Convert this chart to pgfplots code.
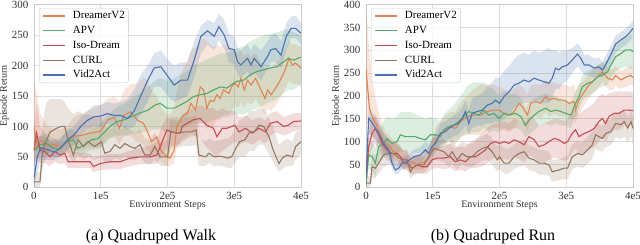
\documentclass[border=0pt]{standalone}
\usepackage{fontspec}
\setmainfont{Liberation Serif}
\usepackage{pgfplots}
\usepackage{pgfplotstable}
\pgfplotsset{compat=1.18}
\usepgfplotslibrary{fillbetween}
\definecolor{cB}{HTML}{4C72B0}
\definecolor{cO}{HTML}{DD8452}
\definecolor{cG}{HTML}{55A868}
\definecolor{cR}{HTML}{C44E52}
\definecolor{cC}{HTML}{937860}
\definecolor{gridc}{HTML}{DDDDDD}
\definecolor{framec}{HTML}{CCCCCC}
\definecolor{txt}{HTML}{333333}

% ---------------- Quadruped Walk ----------------
\pgfplotstableread{
x y l h
0 15 0 40
0.5 50 25 80
1 65 45 85
2 62 45 80
3 58 45 72
4 64 50 80
5 78 62 95
6 86 70 100
7 100 85 115
8 110 95 125
9 116 100 135
10 117 100 135
11 121 105 140
12 118 100 138
13 118 100 140
14 113 95 145
15 125 100 160
16 150 120 185
17 175 140 200
18 196 165 220
19 198 165 225
20 183 150 210
21 168 140 200
22 176 145 205
23 176 150 205
24 209 180 240
25 248 220 265
26 257 235 275
27 248 225 270
27.7 264 242 285
28.5 250 228 275
29.2 228 205 252
30 226 202 248
30.5 206 185 230
31 201 180 225
32 212 190 235
32.5 201 180 225
33 212 190 235
34 198 175 225
35 215 195 240
35.5 226 205 250
36.2 228 207 252
37 217 195 240
37.8 248 225 270
38.5 261 245 280
39.2 261 245 282
40 253 235 270
}\WB
\pgfplotstableread{
x y l h
0 100 50 175
0.5 65 40 150
1 78 50 120
2 68 50 100
3 70 50 95
4 67 50 95
5 74 55 100
6 84 60 115
7 85 60 120
8 88 65 125
9 90 65 130
10 92 65 135
11 110 80 145
12 115 85 150
12.8 97 70 140
13.5 119 85 160
14.5 124 85 170
15.4 111 75 170
16.4 105 70 180
17.1 89 60 175
17.6 75 50 160
18.4 83 55 150
19.1 59 40 130
19.9 50 35 120
20.4 48 35 120
21 61 40 130
21.4 100 65 160
22.2 116 80 190
23 122 85 210
23.5 138 90 225
24.2 127 85 230
24.9 165 110 240
25.4 160 110 245
25.9 130 95 240
26.4 143 100 235
26.9 141 100 230
27.4 152 110 235
27.9 146 110 230
28.4 160 120 235
29.2 154 120 230
29.6 165 125 230
30.1 171 135 225
30.6 165 130 220
31 179 140 225
31.5 160 130 215
32 176 140 220
32.5 168 135 215
33.2 179 145 220
34 160 130 205
34.6 146 120 195
35 160 130 200
35.5 152 125 195
36.2 163 135 205
36.8 174 145 210
37.3 185 155 220
37.8 198 165 230
38.2 212 175 240
38.7 201 170 235
39.2 204 170 235
40 196 165 230
}\WO
\pgfplotstableread{
x y l h
0 60 40 80
0.9 70 55 85
1.9 72 58 88
2.9 64 50 80
3.9 64 50 80
4.9 75 60 92
5.9 78 62 95
6.6 64 50 82
7.6 70 55 88
8.6 78 62 96
9.6 80 62 100
10.4 89 70 110
11.4 100 80 122
12.4 108 85 132
13.6 111 85 138
14.6 116 88 145
15.9 122 90 155
17.1 127 92 165
18.1 135 95 175
18.9 138 95 180
19.9 130 90 175
21 130 90 178
21.9 135 95 185
22.9 141 100 190
23.9 149 105 200
24.9 152 105 205
25.9 154 105 210
26.9 160 110 215
27.9 165 115 220
28.9 163 115 220
29.9 171 120 225
30.4 174 120 228
31.4 176 120 232
32.4 185 125 240
33.4 190 130 245
34.4 193 135 250
35.4 196 140 252
36.4 198 145 255
37.4 206 155 258
38.1 212 160 260
38.9 209 160 255
40 214 170 250
}\WG
\pgfplotstableread{
x y l h
0 60 35 90
0.4 89 50 140
0.9 61 40 100
1.6 59 40 90
2.4 50 35 75
3.1 59 42 80
3.9 53 38 75
4.6 56 40 75
5.1 42 32 60
6.1 42 32 58
7.4 42 32 56
8.4 42 32 55
8.9 34 25 48
9.9 39 28 52
11.4 42 30 55
12.9 42 30 55
14.4 48 35 60
15.9 50 38 65
17.4 50 38 68
18.4 53 38 75
19.1 72 50 100
19.9 94 65 115
21 90 70 110
21.9 89 70 110
22.2 100 75 120
22.9 105 80 125
23.9 111 85 130
24.9 113 80 135
25.9 102 65 130
26.9 97 55 130
27.4 83 50 125
28.2 97 60 130
28.9 97 65 125
30.1 102 75 125
30.7 91 70 115
31.7 97 75 118
32.7 89 70 110
33.7 97 78 115
34.7 91 72 110
35.4 105 85 122
36.4 108 90 125
37.4 100 85 115
38.1 102 88 118
38.9 108 92 122
40 109 95 122
}\WR
\pgfplotstableread{
x y l h
0 9 0 25
0.9 9 0 25
1.2 50 25 90
1.5 67 40 120
1.9 78 50 140
2.4 91 60 145
3.4 97 65 145
4.1 100 70 145
4.6 100 70 140
5.1 78 55 130
5.9 53 40 120
6.6 78 55 125
7.4 67 45 120
8.1 75 50 120
9.1 67 45 115
10.1 75 50 115
10.6 56 40 100
11.4 59 40 95
12.1 70 48 100
12.9 64 45 95
13.6 72 50 100
14.4 67 45 95
15.1 64 45 90
15.9 70 50 95
16.6 53 40 80
17.4 53 38 78
18.1 67 45 90
18.9 50 35 75
19.6 50 35 75
20 50 35 80
20.5 91 65 115
21.5 89 65 115
22.5 91 68 115
23.5 91 68 115
24.3 94 70 118
24.7 53 35 80
25.7 50 35 75
26.2 56 40 80
27 50 35 75
28 51 35 78
29 48 32 80
29.6 50 32 85
30.1 61 40 95
30.8 75 50 110
31.6 78 50 115
32.3 91 60 125
33 91 60 125
33.7 102 70 130
34.4 100 70 128
35.2 83 55 115
35.9 59 40 95
36.7 39 25 70
37.2 48 30 75
37.9 53 35 80
38.7 50 35 75
39.2 67 45 90
40 75 55 95
}\WC

% ---------------- Quadruped Run ----------------
\pgfplotstableread{
x y l h
0 20 5 40
0.4 151 120 175
0.65 147 115 170
1.15 136 110 160
1.9 118 95 140
2.65 96 75 118
3.4 82 65 100
3.9 53 40 70
4.4 38 28 52
4.9 42 30 55
5.4 53 40 68
6.15 56 42 70
7.15 67 52 82
8.15 71 55 88
8.9 82 65 100
9.4 74 58 92
9.9 89 70 108
10.4 96 78 115
11.15 118 95 140
11.9 122 100 145
12.4 129 105 150
13.15 136 112 158
13.9 140 115 165
14.4 151 125 175
14.9 166 135 190
15.4 140 115 170
15.9 162 130 195
16.65 166 135 200
17.4 169 135 205
18.15 180 140 220
18.9 184 140 230
19.4 191 145 240
20 184 140 240
20.7 199 150 255
21.4 209 160 265
22.2 224 175 280
22.9 228 180 290
23.7 235 185 295
24.4 231 185 290
25.2 239 190 300
25.9 235 190 295
26.7 231 185 300
27.4 228 185 305
27.9 239 195 300
28.4 261 215 300
28.9 257 215 295
29.4 264 225 300
30.2 268 235 300
30.9 279 250 305
31.7 292 265 315
32.2 282 255 305
32.7 268 245 290
33.4 268 245 290
34.2 261 240 282
34.9 264 245 285
35.4 257 240 275
35.9 268 250 288
36.7 292 272 310
37.4 314 295 332
38.2 323 305 340
38.9 330 312 348
39.4 337 318 355
40 348 330 365
}\RB
\pgfplotstableread{
x y l h
0 260 150 400
0.5 175 120 300
1 150 110 230
1.5 140 105 190
2 120 95 160
2.5 105 85 135
3 95 75 120
3.5 90 70 115
4 80 62 105
4.5 75 58 98
5 70 52 92
5.5 60 45 82
6 62 45 82
6.5 55 40 75
7 55 40 72
7.5 50 38 68
8 52 38 70
8.65 55 40 75
9.15 60 45 80
9.65 72 52 95
10.4 104 75 130
11.15 118 90 145
12.15 129 100 160
12.65 133 100 165
13.4 129 95 165
14.15 144 110 185
15.15 155 115 200
16.15 158 115 215
17.15 158 115 225
18.15 166 125 225
19.15 169 130 225
19.9 169 130 220
20.7 162 125 215
21.4 158 120 210
22.2 166 130 215
22.9 184 145 225
23.4 177 140 220
24.2 158 125 205
24.7 184 150 225
25.4 188 155 225
26.2 184 150 225
26.9 199 165 235
27.4 191 155 230
28.2 195 160 230
28.9 191 155 225
29.7 191 155 225
30.4 184 150 220
31.2 188 150 225
31.4 169 140 210
31.9 191 160 225
32.7 209 180 235
33.4 224 195 250
34.2 235 210 260
34.9 245 220 268
35.4 253 230 275
36.2 239 215 260
36.9 235 212 258
37.4 245 222 265
38.2 235 215 255
38.9 241 220 262
39.7 245 225 265
40 240 220 260
}\RO
\pgfplotstableread{
x y l h
0 5 0 20
0.4 71 40 100
0.9 67 35 100
1.4 53 25 85
1.9 89 55 125
2.65 96 65 145
3.15 107 75 155
3.9 96 65 150
4.65 100 70 155
5.15 115 80 165
5.9 111 75 165
6.65 111 75 165
7.4 111 75 160
8.15 107 75 155
8.9 104 75 150
9.65 115 85 155
10.4 115 85 150
11.15 111 85 145
11.65 126 95 160
12.4 133 100 170
13.15 136 100 180
13.9 144 105 195
14.65 155 115 210
15.4 166 120 225
16.15 162 120 230
16.9 158 120 230
17.65 169 130 230
18.4 158 120 220
19.15 162 125 215
19.9 151 120 200
20.7 162 130 210
21.4 158 125 205
22.4 162 130 205
23.2 155 125 195
23.9 136 110 175
24.4 147 115 185
25.2 158 125 195
25.9 166 135 200
26.9 173 140 205
27.7 166 135 200
28.4 169 140 200
29.2 166 135 195
29.9 162 135 190
30.7 158 130 185
31.2 177 150 205
31.9 199 170 225
32.4 220 190 245
33.2 228 200 255
33.9 231 205 260
34.7 242 215 268
35.4 246 220 272
36.2 253 225 280
36.7 268 240 295
37.4 286 255 310
38.2 293 260 320
38.9 301 265 330
39.7 301 260 335
40 297 255 330
}\RG
\pgfplotstableread{
x y l h
0 20 5 45
0.4 89 60 120
0.9 118 85 150
1.4 129 95 160
1.9 115 85 145
2.4 96 70 125
3.15 82 60 110
3.9 74 55 100
4.65 74 55 98
5.15 67 50 90
5.65 53 38 75
6.15 53 38 75
6.9 42 28 62
7.65 49 32 70
8.4 45 30 65
9.15 45 30 65
9.9 60 40 82
10.65 64 42 88
11.65 64 40 90
12.65 67 42 95
13.4 56 35 85
14.15 60 38 90
14.9 56 35 88
15.65 67 42 100
16.4 67 42 105
17.15 74 45 115
17.9 82 50 125
18.65 96 60 135
19.4 100 65 140
20 96 60 140
20.7 100 62 145
21.4 96 60 140
22.2 104 65 150
22.9 100 62 145
23.7 93 55 140
24.4 111 70 155
25.2 104 65 150
25.9 89 55 135
26.7 93 55 140
27.4 100 60 145
28.2 107 65 150
28.9 104 62 150
29.7 96 58 145
30.2 100 60 150
30.9 118 75 165
31.4 126 85 170
31.9 111 70 160
32.7 118 78 170
33.4 122 82 175
34.2 129 88 185
34.9 144 100 200
35.4 151 110 205
35.9 140 100 200
36.4 155 115 205
37.2 162 125 210
37.9 162 125 210
38.7 169 135 210
39.4 169 135 210
40 168 135 208
}\RR
\pgfplotstableread{
x y l h
0 9 0 25
0.65 9 0 25
0.9 45 20 75
1.4 42 20 70
1.9 53 30 80
2.65 71 45 95
3.4 74 50 98
4.15 74 50 98
4.9 64 42 88
5.65 60 40 82
6.15 60 40 82
6.65 34 20 55
7.15 45 28 65
7.9 49 30 70
8.65 49 30 72
9.4 67 45 90
10.15 85 60 110
10.9 82 58 108
11.65 78 55 105
12.4 67 45 95
12.9 78 52 105
13.65 60 40 88
14.4 74 50 100
15.15 67 45 95
15.9 67 45 95
16.65 78 52 105
17.4 85 58 112
18.15 89 60 118
18.9 78 50 108
19.65 60 35 90
20 67 40 95
20.7 53 30 85
21.4 53 30 85
22.2 67 40 95
22.9 74 45 100
23.7 78 48 105
24.4 64 38 92
25.2 60 35 88
25.9 53 28 82
26.7 53 28 82
27.4 49 25 78
27.9 34 12 60
28.9 38 15 62
29.7 42 18 66
30.2 42 18 68
30.9 67 40 95
31.7 74 45 100
32.4 71 42 98
33.2 82 52 110
33.9 93 62 122
34.4 115 85 140
34.9 111 80 138
35.4 107 78 135
35.9 118 88 145
36.7 122 92 148
37.4 140 110 165
38.2 137 105 162
38.7 144 112 168
39.2 130 98 155
39.7 144 112 168
40 129 95 155
}\RC

\newcommand{\band}[3]{%
  \addplot[draw=none, name path=#3u, forget plot] table[x=x,y=h]{#1};
  \addplot[draw=none, name path=#3d, forget plot] table[x=x,y=l]{#1};
  \addplot[fill=#2, fill opacity=0.2, draw=none, forget plot] fill between[of=#3u and #3d];
}
\newcommand{\lf}{\fontsize{11}{13}\selectfont}
\newcommand{\mylegend}{%
  \addlegendimage{cO, line width=1.4pt}\addlegendentry{\lf DreamerV2}
  \addlegendimage{cG, line width=1.4pt}\addlegendentry{\lf APV}
  \addlegendimage{cR, line width=1.4pt}\addlegendentry{\lf Iso-Dream}
  \addlegendimage{cC, line width=1.4pt}\addlegendentry{\lf CURL}
  \addlegendimage{cB, line width=1.4pt}\addlegendentry{\lf Vid2Act}
}

\pgfplotsset{
  mystyle/.style={
    scale only axis, width=267pt, height=182.6pt,
    xmin=0, xmax=40,
    xtick={0,10,20,30,40}, xticklabels={0,1e5,2e5,3e5,4e5},
    grid=major, major grid style={gridc, line width=0.8pt},
    axis line style={framec, line width=0.8pt},
    tick style={draw=none}, major tick length=0pt,
    ticklabel style={font=\fontsize{11}{13}\selectfont, text=txt},
    /pgf/number format/assume math mode=true,
    label style={font=\fontsize{10}{12}\selectfont, text=txt},
    xlabel={Environment Steps}, ylabel={Episode Return},
    xtick pos=bottom, ytick pos=left,
    xticklabel style={yshift=-1pt},
    yticklabel style={xshift=-2pt},
    xlabel style={yshift=5pt},
    ylabel style={yshift=-4pt},
    legend style={at={(0.019,0.982)}, anchor=north west,
      draw=framec, rounded corners=2pt, fill=white, fill opacity=0.8, text opacity=1,
      font=\fontsize{11}{13}\selectfont, inner xsep=3.5pt, inner ysep=2.5pt,
      nodes={inner sep=0pt, text height=8pt, text depth=2.5pt},
      row sep=4.3pt, column sep=0pt},
    legend cell align=left,
    legend image code/.code={\path[draw=none, fill=none] (0pt,-1pt) rectangle (29.5pt,1pt);\draw[##1] (0pt,0pt) -- (22pt,0pt);},
    every axis plot/.append style={line width=1.1pt},
  }
}

\begin{document}
\begin{tikzpicture}
\begin{axis}[mystyle, at={(0,0)}, ymin=0, ymax=300, ytick={0,50,...,300}]
  \mylegend
  \band{\WO}{cO}{wo}
  \band{\WG}{cG}{wg}
  \band{\WR}{cR}{wr}
  \band{\WC}{cC}{wc}
  \band{\WB}{cB}{wb}
  \addplot[cO, forget plot] table[x=x,y=y]{\WO};
  \addplot[cG, forget plot] table[x=x,y=y]{\WG};
  \addplot[cR, forget plot] table[x=x,y=y]{\WR};
  \addplot[cC, forget plot] table[x=x,y=y]{\WC};
  \addplot[cB, forget plot] table[x=x,y=y]{\WB};
\end{axis}
\begin{axis}[mystyle, at={(332pt,0)}, ymin=0, ymax=400, ytick={0,50,...,400}]
  \mylegend
  \band{\RO}{cO}{ro}
  \band{\RG}{cG}{rg}
  \band{\RR}{cR}{rr}
  \band{\RC}{cC}{rc}
  \band{\RB}{cB}{rb}
  \addplot[cO, forget plot] table[x=x,y=y]{\RO};
  \addplot[cG, forget plot] table[x=x,y=y]{\RG};
  \addplot[cR, forget plot] table[x=x,y=y]{\RR};
  \addplot[cC, forget plot] table[x=x,y=y]{\RC};
  \addplot[cB, forget plot] table[x=x,y=y]{\RB};
\end{axis}
\node[font=\fontsize{16}{19}\selectfont, text=black] at (117pt,-49.2pt) {(a) Quadruped Walk};
\node[font=\fontsize{16}{19}\selectfont, text=black] at (459pt,-49.2pt) {(b) Quadruped Run};
\pgfresetboundingbox
\path[use as bounding box] (-34pt,-57.7pt) rectangle (606pt,187.3pt);
\end{tikzpicture}
\end{document}
